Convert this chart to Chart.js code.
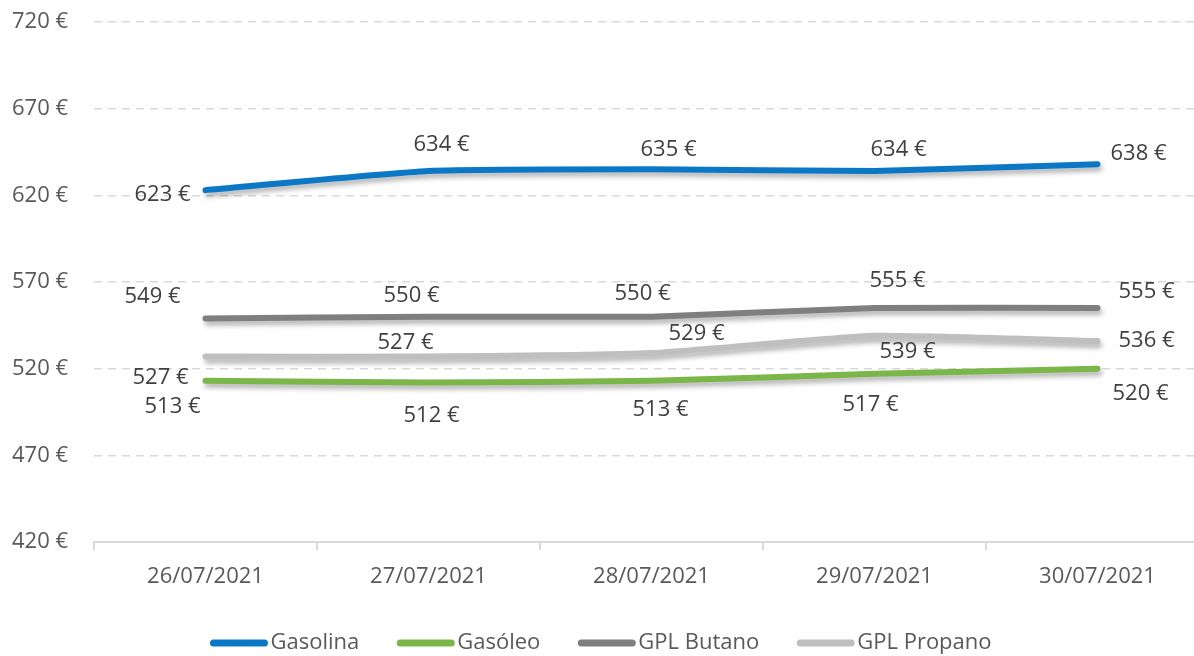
<!DOCTYPE html>
<html>
<head>
<meta charset="utf-8">
<script src="https://cdn.jsdelivr.net/npm/chart.js@4.4.1/dist/chart.umd.min.js"></script>
<style>
  html, body { margin: 0; padding: 0; background: #fff; overflow: hidden; }
  #wrap { width: 1212px; height: 656px; }
</style>
</head>
<body>
<div id="wrap"><canvas id="precos"></canvas></div>
<script>
const dates = ['26/07/2021', '27/07/2021', '28/07/2021', '29/07/2021', '30/07/2021'];
const gasolina = [623, 634, 635, 634, 638];
const gasoleo = [513, 512, 513, 517, 520];
const gplButano = [549, 550, 550, 555, 555];
const gplPropano = [527, 527, 529, 539, 536];
const yTicks = [420, 470, 520, 570, 620, 670, 720];

// label offsets (px) from each point, as placed in the original
const labelOffsets = [
  [[-43, 5], [13, -26], [17, -20], [24, -21], [41, -10]],
  [[-33, 26], [3, 33], [9, 29], [-4, 31], [43, 25]],
  [[-53, -22], [-17, -21], [-9, -23], [23, -27], [49, -16]],
  [[-45, 21], [-23, -14], [45, -19], [33, 16], [49, 0]]
];

const FONT = '"Open Sans", "Noto Sans", sans-serif';
const TEXT = '#595959';

const shadowPlugin = {
  id: 'lineShadow',
  beforeDatasetDraw(chart) {
    const ctx = chart.ctx;
    ctx.save();
    ctx.shadowColor = 'rgba(0, 0, 0, 0.3)';
    ctx.shadowBlur = 5;
    ctx.shadowOffsetX = 2;
    ctx.shadowOffsetY = 4;
  },
  afterDatasetDraw(chart) {
    chart.ctx.restore();
  }
};

const valueLabels = {
  id: 'valueLabels',
  afterDatasetsDraw(chart) {
    const ctx = chart.ctx;
    ctx.save();
    ctx.font = '22px ' + FONT;
    ctx.fillStyle = '#404040';
    ctx.textAlign = 'center';
    ctx.textBaseline = 'middle';
    chart.data.datasets.forEach((ds, i) => {
      chart.getDatasetMeta(i).data.forEach((pt, j) => {
        const off = labelOffsets[i][j];
        ctx.fillText(ds.data[j] + ' €', pt.x + off[0], pt.y + off[1]);
      });
    });
    ctx.restore();
  }
};

// legend drawn by hand: line marker touching its text, like the original
const lineLegend = {
  id: 'lineLegend',
  afterDraw(chart) {
    const ctx = chart.ctx;
    const markW = 57, gap = 3, itemGap = 38, y = 643, cx = 601;
    ctx.save();
    ctx.font = '22px ' + FONT;
    ctx.textBaseline = 'middle';
    ctx.textAlign = 'left';
    const items = chart.data.datasets.map(ds => ({
      ds: ds, w: markW + gap + ctx.measureText(ds.label).width
    }));
    const total = items.reduce((s, it) => s + it.w, 0) + itemGap * (items.length - 1);
    let x = cx - total / 2;
    items.forEach(it => {
      ctx.strokeStyle = it.ds.borderColor;
      ctx.lineWidth = 7;
      ctx.lineCap = 'round';
      ctx.beginPath();
      ctx.moveTo(x + 3, y);
      ctx.lineTo(x + markW - 3, y);
      ctx.stroke();
      ctx.fillStyle = TEXT;
      ctx.fillText(it.ds.label, x + markW + gap, y);
      x += it.w + itemGap;
    });
    ctx.restore();
  }
};

const mkSet = (label, data, color) => ({
  label: label,
  data: data,
  borderColor: color,
  backgroundColor: color,
  borderWidth: 6,
  borderCapStyle: 'round',
  borderJoinStyle: 'round',
  pointRadius: 0,
  pointHoverRadius: 0,
  tension: 0.15,
  fill: false
});

const ctx = document.getElementById('precos').getContext('2d');
new Chart(ctx, {
  type: 'line',
  data: {
    labels: dates,
    datasets: [
      mkSet('Gasolina', gasolina, '#0a78c6'),
      mkSet('Gasóleo', gasoleo, '#7ab648'),
      mkSet('GPL Butano', gplButano, '#7f7f7f'),
      mkSet('GPL Propano', gplPropano, '#bfbfbf')
    ]
  },
  options: {
    responsive: true,
    maintainAspectRatio: false,
    animation: false,
    layout: { padding: { top: 22, right: 3, left: 0, bottom: 44 } },
    scales: {
      x: {
        offset: true,
        grid: {
          offset: true,
          drawOnChartArea: false,
          drawTicks: true,
          tickLength: 8,
          color: '#d9d9d9',
          lineWidth: 2
        },
        border: { color: '#d9d9d9', width: 2 },
        ticks: {
          color: TEXT,
          font: { family: FONT, size: 22 },
          padding: 14,
          maxRotation: 0
        },
        afterFit(scale) { scale.height = 70; }
      },
      y: {
        min: 420,
        max: 720,
        afterBuildTicks(scale) { scale.ticks = yTicks.map(v => ({ value: v })); },
        grid: {
          color: '#d9d9d9',
          lineWidth: 1.5,
          drawTicks: false
        },
        border: { display: false, dash: [8, 6] },
        ticks: {
          color: TEXT,
          font: { family: FONT, size: 22 },
          padding: 26,
          callback: v => v + ' €'
        },
        afterFit(scale) {
          scale.width = 94;
          scale.paddingTop = 0;
          scale.paddingBottom = 0;
        }
      }
    },
    plugins: {
      legend: { display: false },
      tooltip: { enabled: false }
    }
  },
  plugins: [shadowPlugin, valueLabels, lineLegend]
});
</script>
</body>
</html>
